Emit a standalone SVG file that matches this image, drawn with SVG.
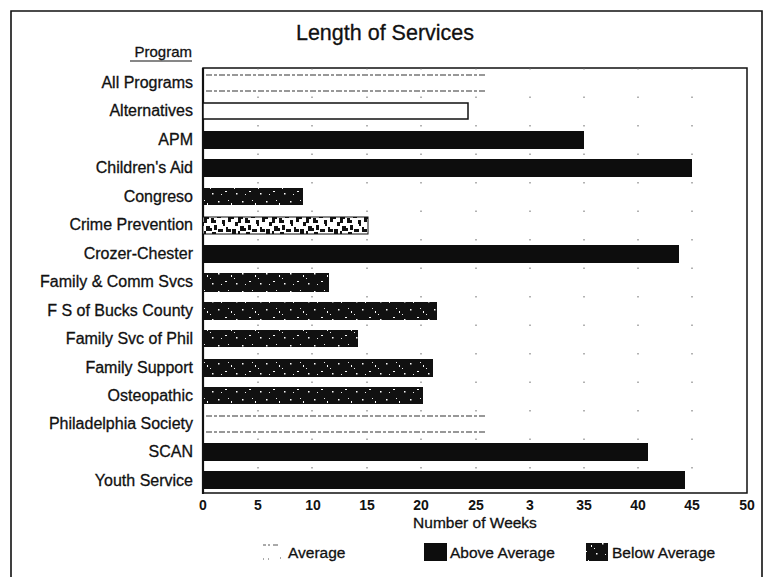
<svg xmlns="http://www.w3.org/2000/svg" width="765" height="577" viewBox="0 0 765 577">
<style>
text{font-family:"Liberation Sans",Arial,sans-serif;fill:#111;stroke:#111;stroke-width:0.3}
.lbl{font-size:16px;text-anchor:end}
.tick{font-size:14px;text-anchor:middle;font-weight:bold;stroke-width:0}
.leg{font-size:15.5px}
.above{fill:#0d0d0d}
.below{fill:url(#speck)}
.avgline{stroke:#333;stroke-width:1.2;stroke-dasharray:6 2 3 2}
.grid{stroke:#666;stroke-width:1;stroke-dasharray:1.5 27}
</style>
<defs>
<pattern id="speck" width="24" height="18" patternUnits="userSpaceOnUse">
<rect width="24" height="18" fill="#111"/>
<rect x="2" y="3" width="1.5" height="1.5" fill="#fff"/>
<rect x="9" y="11" width="2" height="1" fill="#fff"/>
<rect x="15" y="5" width="1" height="2" fill="#fff"/>
<rect x="20" y="13" width="1.5" height="1.5" fill="#fff"/>
<rect x="5" y="14" width="1" height="1" fill="#eee"/>
<rect x="12" y="2" width="1" height="1" fill="#eee"/>
<rect x="18" y="8" width="1" height="1" fill="#eee"/>
</pattern>
<pattern id="light" width="34" height="18" patternUnits="userSpaceOnUse">
<rect width="34" height="18" fill="#fff"/>
<path d="M0 0 h5 v3 h-2 v4 h-3 Z M7 2 h3 v2 h2 v3 h-5 Z M13 0 h4 v2 h-4 Z M18 4 h3 v6 h-2 v-2 h-1 Z M24 1 h6 v2 h-3 v3 h-3 Z M31 6 h3 v4 h-3 Z M2 10 h4 v2 h2 v3 h-6 Z M10 9 h3 v5 h-3 Z M14 13 h5 v3 h-5 Z M22 11 h2 v2 h3 v3 h-5 Z M28 13 h4 v5 h-4 Z M0 15 h2 v3 h-2 Z M8 16 h4 v2 h-4 Z" fill="#111"/>
</pattern>
</defs>

<!-- outer frame -->
<path d="M11 577 V11 H762 V577" fill="none" stroke="#111" stroke-width="1.6"/>

<text x="385" y="40" font-size="21.5" text-anchor="middle">Length of Services</text>
<text x="192" y="57" font-size="15" text-anchor="end">Program</text>
<line x1="130" y1="61" x2="192" y2="61" stroke="#111" stroke-width="1.2"/>

<g id="plot">
<path d="M203 68 H747 V493 H203 Z" fill="none" stroke="#111" stroke-width="1.5"/>
<line x1="203" y1="68" x2="203" y2="494" stroke="#111" stroke-width="2.2"/>
<g class="grid">
<line x1="258" y1="68" x2="258" y2="493"/><line x1="312" y1="68" x2="312" y2="493"/>
<line x1="367" y1="68" x2="367" y2="493"/><line x1="421" y1="68" x2="421" y2="493"/>
<line x1="476" y1="68" x2="476" y2="493"/><line x1="530" y1="68" x2="530" y2="493"/>
<line x1="584" y1="68" x2="584" y2="493"/><line x1="638" y1="68" x2="638" y2="493"/>
<line x1="692" y1="68" x2="692" y2="493"/>
</g>
</g>

<g id="bars">
<g id="bar-all"><line class="avgline" x1="206" y1="75" x2="487" y2="75"/><line class="avgline" x1="206" y1="91" x2="487" y2="91"/></g>
<g id="bar-alternatives"><rect x="203" y="103" width="265" height="16" fill="#fff" stroke="#111" stroke-width="1.5"/></g>
<g id="bar-apm"><rect class="above" x="203" y="131" width="381" height="18"/></g>
<g id="bar-childrens"><rect class="above" x="203" y="159" width="489" height="18"/></g>
<g id="bar-congreso"><rect class="below" x="203" y="188" width="100" height="17"/></g>
<g id="bar-crime"><rect x="203" y="217" width="165" height="17" fill="url(#light)" stroke="#111"/></g>
<g id="bar-crozer"><rect class="above" x="203" y="245" width="476" height="18"/></g>
<g id="bar-famcomm"><rect class="below" x="203" y="273" width="126" height="19"/></g>
<g id="bar-bucks"><rect class="below" x="203" y="302" width="234" height="18"/></g>
<g id="bar-famphil"><rect class="below" x="203" y="330" width="155" height="17"/></g>
<g id="bar-famsupport"><rect class="below" x="203" y="359" width="230" height="18"/></g>
<g id="bar-osteo"><rect class="below" x="203" y="387" width="220" height="17"/></g>
<g id="bar-philsoc"><line class="avgline" x1="206" y1="416" x2="486" y2="416"/><line class="avgline" x1="206" y1="432" x2="486" y2="432"/></g>
<g id="bar-scan"><rect class="above" x="203" y="443" width="445" height="18"/></g>
<g id="bar-youth"><rect class="above" x="203" y="471" width="482" height="18"/></g>
</g>

<g id="labels">
<text class="lbl" x="193" y="88">All Programs</text>
<text class="lbl" x="193" y="116">Alternatives</text>
<text class="lbl" x="193" y="145">APM</text>
<text class="lbl" x="193" y="173">Children's Aid</text>
<text class="lbl" x="193" y="202">Congreso</text>
<text class="lbl" x="193" y="230">Crime Prevention</text>
<text class="lbl" x="193" y="259">Crozer-Chester</text>
<text class="lbl" x="193" y="287">Family &amp; Comm Svcs</text>
<text class="lbl" x="193" y="316">F S of Bucks County</text>
<text class="lbl" x="193" y="344">Family Svc of Phil</text>
<text class="lbl" x="193" y="373">Family Support</text>
<text class="lbl" x="193" y="401">Osteopathic</text>
<text class="lbl" x="193" y="429">Philadelphia Society</text>
<text class="lbl" x="193" y="457">SCAN</text>
<text class="lbl" x="193" y="486">Youth Service</text>
</g>

<g id="axis">
<text class="tick" x="203" y="510">0</text>
<text class="tick" x="258" y="510">5</text>
<text class="tick" x="313" y="510">10</text>
<text class="tick" x="367" y="510">15</text>
<text class="tick" x="421" y="510">20</text>
<text class="tick" x="476" y="510">25</text>
<text class="tick" x="530" y="510">3</text>
<text class="tick" x="584" y="510">35</text>
<text class="tick" x="638" y="510">40</text>
<text class="tick" x="692" y="510">45</text>
<text class="tick" x="747" y="510">50</text>
<text x="475" y="528" font-size="15.5" text-anchor="middle">Number of Weeks</text>
</g>

<g id="legend">
<g id="leg-avg"><rect x="262" y="543" width="22" height="18" fill="#fff"/><path d="M263 545 h3 M268 545 h2 M273 545 h5 M263 559 h1 M268 559 h1 M280 558 h1" stroke="#555" stroke-width="1"/>
<text class="leg" x="288" y="558">Average</text></g>
<g id="leg-above"><rect class="above" x="424" y="543" width="23" height="18"/>
<text class="leg" x="450" y="558">Above Average</text></g>
<g id="leg-below"><rect class="below" x="586" y="543" width="22" height="18"/>
<text class="leg" x="612" y="558">Below Average</text></g>
</g>
</svg>
